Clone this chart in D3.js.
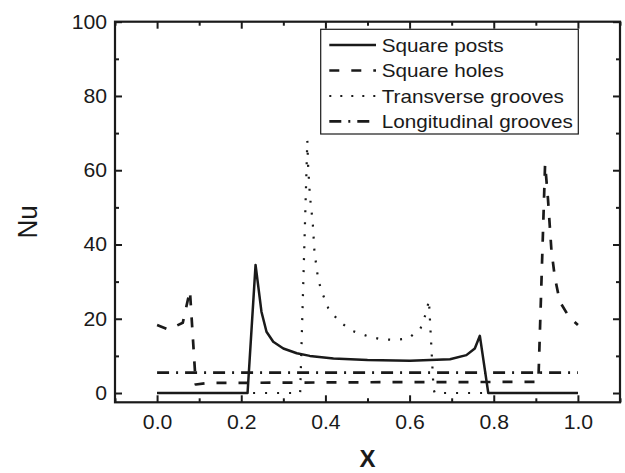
<!DOCTYPE html>
<html>
<head>
<meta charset="utf-8">
<script src="https://cdn.jsdelivr.net/npm/d3@7"></script>
<style>
  html, body { margin: 0; padding: 0; background: #fff; }
  svg { display: block; font-family: "Liberation Sans", Arial, sans-serif; }
</style>
</head>
<body>
<svg id="chart" width="625" height="473"></svg>
<script>
// Nusselt number along the channel for four wall textures
const postsX = [0, 0.215, 0.234, 0.248, 0.26, 0.276, 0.30, 0.332, 0.363, 0.419, 0.5, 0.601, 0.696, 0.735, 0.755, 0.767, 0.787, 1.0];
const postsY = [0, 0, 34.5, 21.9, 16.5, 13.8, 12.0, 10.7, 10.0, 9.3, 8.9, 8.7, 9.1, 10.2, 12.0, 15.4, 0, 0];

const holesX = [0, 0.027, 0.061, 0.078, 0.092, 0.12, 0.5, 0.906, 0.922, 0.929, 0.937, 0.945, 0.957, 0.979, 1.0];
const holesY = [18.3, 17.1, 18.9, 27.6, 2.3, 2.7, 2.9, 3.0, 61.7, 52.0, 38.5, 31.3, 24.6, 20.5, 18.3];

const transX = [0, 0.34, 0.357, 0.359, 0.363, 0.37, 0.374, 0.383, 0.393, 0.407, 0.433, 0.465, 0.498, 0.531, 0.565, 0.597, 0.626, 0.639, 0.646, 0.657, 0.66, 1.0];
const transY = [0, 0, 68, 61, 53.3, 45.7, 38, 30.4, 26.8, 22.8, 19.2, 16.7, 15.4, 14.5, 14.3, 14.7, 17.4, 21.5, 25, 1, 0, 0];

const longX = [0, 1.0];
const longY = [5.5, 5.5];

const seriesNames = ["Square posts", "Square holes", "Transverse grooves", "Longitudinal grooves"];

const xTicks = [0.0, 0.2, 0.4, 0.6, 0.8, 1.0];
const xMinor = [-0.1, 0.1, 0.3, 0.5, 0.7, 0.9, 1.1];
const yTicks = [0, 20, 40, 60, 80, 100];
const yMinor = [10, 30, 50, 70, 90];

const svg = d3.select("#chart");
const plotLeft = 115, plotRight = 620, plotTop = 21.7, plotBottom = 402.3;
const ink = "#1a1a1a";

const x = d3.scaleLinear().domain([-0.1, 1.1]).range([plotLeft, plotRight]);
const y = d3.scaleLinear().domain([-2.5, 100]).range([plotBottom, plotTop]);

const styles = [
  { dash: null, width: 2.5 },
  { dash: "10,12", width: 2.7 },
  { dash: "2,10", width: 2.2 },
  { dash: "12,7,2,7", width: 2.7 }
];

// Widen glyphs horizontally by factor k
function stretch(sel, k) {
  sel.each(function () {
    const w = this.getComputedTextLength();
    if (w > 0) {
      d3.select(this).attr("textLength", w * k).attr("lengthAdjust", "spacingAndGlyphs");
    }
  });
}

const seriesData = [
  postsX.map((v, i) => [v, postsY[i]]),
  holesX.map((v, i) => [v, holesY[i]]),
  transX.map((v, i) => [v, transY[i]]),
  longX.map((v, i) => [v, longY[i]])
];

const line = d3.line().x(d => x(d[0])).y(d => y(d[1]));

svg.append("g").selectAll("path")
  .data(seriesData)
  .join("path")
  .attr("d", line)
  .attr("fill", "none")
  .attr("stroke", ink)
  .attr("stroke-width", (d, i) => styles[i].width)
  .attr("stroke-dasharray", (d, i) => styles[i].dash)
  .attr("stroke-linejoin", "round");

// Axes with inward ticks on all four sides
function styleAxis(g) {
  g.select(".domain").remove();
  g.selectAll(".tick line").attr("stroke", ink).attr("stroke-width", 2);
  g.selectAll(".tick text").attr("fill", ink).attr("font-size", 20)
    .attr("font-family", "Liberation Sans, Arial, sans-serif");
}

const xAxisG = svg.append("g").attr("transform", `translate(0,${plotBottom})`)
  .call(d3.axisBottom(x).tickValues(xTicks).tickFormat(d3.format(".1f")).tickSize(-7).tickPadding(13))
  .call(styleAxis);
svg.append("g").attr("transform", `translate(0,${plotBottom})`)
  .call(d3.axisBottom(x).tickValues(xMinor).tickFormat("").tickSize(-4))
  .call(styleAxis);
svg.append("g").attr("transform", `translate(0,${plotTop})`)
  .call(d3.axisTop(x).tickValues(xTicks).tickFormat("").tickSize(-7))
  .call(styleAxis);
svg.append("g").attr("transform", `translate(0,${plotTop})`)
  .call(d3.axisTop(x).tickValues(xMinor).tickFormat("").tickSize(-4))
  .call(styleAxis);

const yAxisG = svg.append("g").attr("transform", `translate(${plotLeft},0)`)
  .call(d3.axisLeft(y).tickValues(yTicks).tickSize(-7).tickPadding(8))
  .call(styleAxis);
svg.append("g").attr("transform", `translate(${plotLeft},0)`)
  .call(d3.axisLeft(y).tickValues(yMinor).tickFormat("").tickSize(-4))
  .call(styleAxis);
svg.append("g").attr("transform", `translate(${plotRight},0)`)
  .call(d3.axisRight(y).tickValues(yTicks).tickFormat("").tickSize(-7))
  .call(styleAxis);
svg.append("g").attr("transform", `translate(${plotRight},0)`)
  .call(d3.axisRight(y).tickValues(yMinor).tickFormat("").tickSize(-4))
  .call(styleAxis);

stretch(xAxisG.selectAll(".tick text"), 1.06);
stretch(yAxisG.selectAll(".tick text"), 1.06);

// Frame
svg.append("rect")
  .attr("x", plotLeft).attr("y", plotTop)
  .attr("width", plotRight - plotLeft).attr("height", plotBottom - plotTop)
  .attr("fill", "none").attr("stroke", ink).attr("stroke-width", 2.2);

// Axis titles
svg.append("text")
  .attr("transform", `translate(37,${(plotTop + plotBottom) / 2 + 10}) scale(1.08,1) rotate(-90)`)
  .attr("text-anchor", "middle")
  .attr("font-size", 26)
  .attr("fill", ink)
  .text("Nu");

svg.append("text")
  .attr("x", x(0.5)).attr("y", 467)
  .attr("text-anchor", "middle")
  .attr("font-size", 24)
  .attr("font-weight", "bold")
  .attr("fill", ink)
  .text("X");

// Legend
const legend = svg.append("g");
legend.append("rect")
  .attr("x", 320.7).attr("y", 29.3)
  .attr("width", 578.3 - 320.7).attr("height", 134 - 29.3)
  .attr("fill", "#fff").attr("stroke", ink).attr("stroke-width", 1.2);

const rowY = [45, 70.5, 96, 121.3];
const rows = legend.selectAll("g.row")
  .data(seriesNames)
  .join("g")
  .attr("class", "row")
  .attr("transform", (d, i) => `translate(0,${rowY[i]})`);

rows.append("line")
  .attr("x1", 329.3).attr("x2", 376)
  .attr("stroke", ink)
  .attr("stroke-width", (d, i) => styles[i].width)
  .attr("stroke-dasharray", (d, i) => i === 2 ? "2,9" : styles[i].dash);

const legendText = rows.append("text")
  .attr("x", 381.7).attr("dy", "0.36em")
  .attr("font-size", 19)
  .attr("fill", ink)
  .text(d => d);
stretch(legendText, 1.09);
</script>
</body>
</html>
